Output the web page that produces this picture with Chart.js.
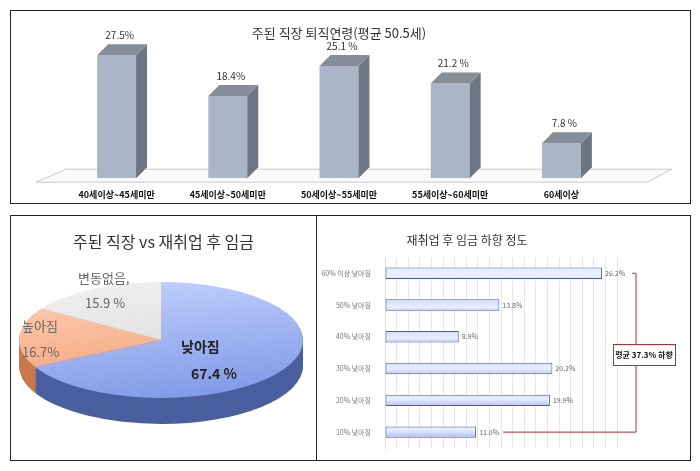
<!DOCTYPE html>
<html><head><meta charset="utf-8">
<script src="https://cdn.jsdelivr.net/npm/chart.js@4.4.1/dist/chart.umd.min.js"></script>
<style>
body{margin:0;background:#fff;width:700px;height:471px;position:relative;font-family:"Noto Sans CJK KR","Noto Sans",sans-serif}
.box{position:absolute;border:1px solid #222;box-sizing:border-box}
canvas{position:absolute;left:0;top:0}
</style></head><body>
<div class="box" style="left:10px;top:10px;width:681px;height:194px"><canvas id="c1" width="679" height="192"></canvas></div>
<div class="box" style="left:10px;top:215px;width:307px;height:246px"><canvas id="c2" width="305" height="244"></canvas></div>
<div class="box" style="left:316px;top:215px;width:375px;height:246px"><canvas id="c3" width="373" height="244"></canvas></div>
<script>
const FONT = '"Noto Sans CJK KR", sans-serif';
const ageLabels = ['40세이상~45세미만','45세이상~50세미만','50세이상~55세미만','55세이상~60세미만','60세이상'];
const ageValues = [27.5, 18.4, 25.1, 21.2, 7.8];
const ageValueText = ['27.5%','18.4%','25.1 %','21.2 %','7.8 %'];
const wageLabels = ['낮아짐','높아짐','변동없음'];
const wageValues = [67.4, 16.7, 15.9];
const dropLabels = ['60% 이상 낮아짐','50% 낮아짐','40% 낮아짐','30% 낮아짐','20% 낮아짐','10% 낮아짐'];
const dropValues = [26.2, 13.8, 8.9, 20.2, 19.9, 11.0];

// top: 3D column chart
const bar3d = {
  id: 'bar3d',
  beforeDatasetsDraw(chart) {
    const c = chart.ctx, a = chart.chartArea;
    c.save();
    c.fillStyle = '#fafafa'; c.strokeStyle = '#c8c8c8'; c.lineWidth = 1;
    c.beginPath();
    c.moveTo(a.left - 25, a.bottom + 4); c.lineTo(a.right + 30, a.bottom + 4);
    c.lineTo(a.right + 55, a.bottom - 9); c.lineTo(a.left + 5, a.bottom - 9);
    c.closePath(); c.fill(); c.stroke();
    c.restore();
  },
  afterDatasetsDraw(chart) {
    const c = chart.ctx, d = 11;
    chart.getDatasetMeta(0).data.forEach((b, i) => {
      const l = b.x - b.width / 2, r = b.x + b.width / 2;
      c.fillStyle = '#6e7684';
      c.beginPath(); c.moveTo(r, b.y); c.lineTo(r + d, b.y - d); c.lineTo(r + d, b.base - d); c.lineTo(r, b.base); c.closePath(); c.fill();
      c.fillStyle = '#858d99';
      c.beginPath(); c.moveTo(l, b.y); c.lineTo(l + d, b.y - d); c.lineTo(r + d, b.y - d); c.lineTo(r, b.y); c.closePath(); c.fill();
      c.fillStyle = '#333'; c.font = '10px ' + FONT; c.textAlign = 'center';
      c.fillText(ageValueText[i], b.x + 3, b.y - 16);
    });
  }
};
new Chart(document.getElementById('c1'), {
  type: 'bar',
  data: { labels: ageLabels, datasets: [{ data: ageValues, backgroundColor: '#aab5c8', barPercentage: 0.35, categoryPercentage: 1 }] },
  options: {
    responsive: false, animation: false,
    layout: { padding: { left: 50, right: 73, top: 0, bottom: 0 } },
    plugins: { legend: { display: false }, tooltip: { enabled: false },
      title: { display: true, text: '주된 직장 퇴직연령(평균 50.5세)', color: '#333', font: { family: FONT, size: 13, weight: 'normal' }, padding: { top: 14, bottom: 8 } } },
    scales: {
      y: { display: false, min: 0, max: 29 },
      x: { grid: { display: false }, border: { display: false },
        ticks: { color: '#111', font: { family: FONT, size: 9, weight: 'bold' }, padding: 3, maxRotation: 0 } }
    }
  },
  plugins: [bar3d]
});

// bottom left: 3D pie
const CX = 150, CY = 124, RX = 142, RY = 58, DEPTH = 26;
const sideColors = ['#4b5f9f', '#c9794f', '#b3b3b3'];
const pie3d = {
  id: 'pie3d',
  beforeDatasetsDraw(chart) {
    const c = chart.ctx, arcs = chart.getDatasetMeta(0).data;
    const r = arcs[0].outerRadius, ox = arcs[0].x, oy = arcs[0].y;
    for (let d = DEPTH; d > 0; d--) {
      c.save();
      c.translate(CX, CY + d); c.scale(RX / r, RY / r); c.translate(-ox, -oy);
      arcs.forEach((a, i) => {
        c.fillStyle = sideColors[i];
        c.beginPath(); c.moveTo(ox, oy); c.arc(ox, oy, r, a.startAngle, a.endAngle); c.closePath(); c.fill();
      });
      c.restore();
    }
    c.save();
    c.translate(CX, CY); c.scale(RX / r, RY / r); c.translate(-ox, -oy);
  },
  afterDatasetsDraw(chart) {
    const c = chart.ctx;
    c.restore();
    c.textAlign = 'left';
    c.fillStyle = '#222'; c.font = 'bold 14px ' + FONT;
    c.fillText('낮아짐', 170, 136);
    c.fillText('67.4 %', 180, 163);
    c.fillStyle = '#666'; c.font = '13px ' + FONT;
    c.fillText('높아짐', 11, 115);
    c.fillText('16.7%', 11, 141);
    c.fillText('변동없음,', 67, 67);
    c.fillText('15.9 %', 74, 92);
  }
};
new Chart(document.getElementById('c2'), {
  type: 'pie',
  data: { labels: wageLabels, datasets: [{ data: wageValues, borderWidth: 0,
    backgroundColor: (ctx) => {
      const g = ctx.chart.ctx.createLinearGradient(ctx.chart.width / 2, 0, ctx.chart.width / 2 + 60, ctx.chart.height);
      const stops = [['#c9d6ff', '#7f98e6'], ['#ffd6bf', '#f19a6c'], ['#f2f2f2', '#d6d6d6']][ctx.dataIndex];
      g.addColorStop(0, stops[0]); g.addColorStop(1, stops[1]); return g;
    } }] },
  options: {
    responsive: false, animation: false,
    plugins: { legend: { display: false }, tooltip: { enabled: false },
      title: { display: true, text: '주된 직장 vs 재취업 후 임금', color: '#333', font: { family: FONT, size: 16, weight: 'normal' }, padding: { top: 16, bottom: 4 } } }
  },
  plugins: [pie3d]
});

// bottom right: horizontal bars
const bracket = {
  id: 'bracket',
  afterDatasetsDraw(chart) {
    const c = chart.ctx, bars = chart.getDatasetMeta(0).data;
    c.fillStyle = '#666'; c.font = '7px ' + FONT; c.textAlign = 'left'; c.textBaseline = 'middle';
    bars.forEach((b, i) => c.fillText(dropValues[i].toFixed(1) + '%', b.x + 3, b.y));
    const top = bars[0], bot = bars[5], xr = 319;
    c.strokeStyle = '#c0282d'; c.lineWidth = 1;
    c.beginPath();
    c.moveTo(top.x + 30, top.y); c.lineTo(xr, top.y); c.lineTo(xr, bot.y); c.lineTo(bot.x + 27, bot.y);
    c.stroke();
    c.fillStyle = '#fff'; c.fillRect(296, 128, 62, 21); c.strokeRect(296.5, 128.5, 62, 21);
    c.fillStyle = '#111'; c.font = 'bold 8px ' + FONT; c.textAlign = 'center';
    c.fillText('평균 37.3% 하향', 327, 139);
  }
};
new Chart(document.getElementById('c3'), {
  type: 'bar',
  data: { labels: dropLabels, datasets: [{ data: dropValues, borderColor: '#4a5ca6', borderWidth: 1, borderSkipped: false,
    barPercentage: 0.36, categoryPercentage: 1,
    backgroundColor: (ctx) => {
      const g = ctx.chart.ctx.createLinearGradient(0, 0, 0, ctx.chart.height);
      for (let k = 0; k < 6; k++) { const y0 = (46 + k * 30.7 + 19) / 244; g.addColorStop(y0 - 0.02, '#e9eeff'); g.addColorStop(Math.min(y0 + 0.02, 1), '#9fb3ef'); }
      return g;
    } }] },
  options: {
    indexAxis: 'y', responsive: false, animation: false,
    layout: { padding: { left: 0, right: 73, top: 0, bottom: 12 } },
    plugins: { legend: { display: false }, tooltip: { enabled: false },
      title: { display: true, text: '재취업 후 임금 하향 정도', color: '#333', font: { family: FONT, size: 12, weight: 'normal' }, padding: { top: 17, bottom: 10 } } },
    scales: {
      x: { min: 0, max: 28, ticks: { display: false, stepSize: 1.4 }, grid: { color: '#e6e6e6', drawTicks: false }, border: { display: false } },
      y: { grid: { display: false }, border: { color: '#ddd' },
        afterFit: (s) => { s.width = 68; },
        ticks: { color: '#777', font: { family: FONT, size: 7 }, padding: 6 } }
    }
  },
  plugins: [bracket]
});
</script>
</body></html>
